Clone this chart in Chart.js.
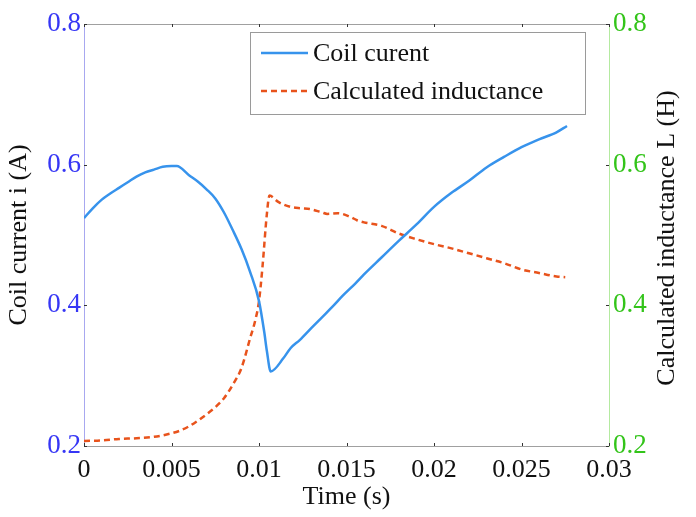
<!DOCTYPE html>
<html>
<head>
<meta charset="utf-8">
<script src="https://cdn.jsdelivr.net/npm/chart.js@4.4.1/dist/chart.umd.min.js"></script>
<style>
  html, body { margin: 0; padding: 0; background: #fff; }
  #wrap { width: 696px; height: 517px; position: relative; }
</style>
</head>
<body>
<div id="wrap"><canvas id="c"></canvas></div>
<script>
// coil current (left axis)
const timeI = [0, 0.0005, 0.001, 0.0015, 0.002, 0.0025, 0.003, 0.0035, 0.004, 0.0045, 0.005, 0.0053, 0.006, 0.0065, 0.007, 0.0075, 0.008, 0.0085, 0.009, 0.0095, 0.01, 0.0103, 0.01045, 0.01067, 0.0114, 0.0118, 0.01234, 0.013, 0.0136, 0.0142, 0.0148, 0.0155, 0.016, 0.017, 0.018, 0.019, 0.02, 0.021, 0.022, 0.023, 0.024, 0.025, 0.026, 0.027, 0.0276];
const current = [0.524, 0.538, 0.550, 0.559, 0.567, 0.575, 0.583, 0.589, 0.593, 0.597, 0.598, 0.598, 0.585, 0.576, 0.565, 0.552, 0.532, 0.507, 0.480, 0.447, 0.406, 0.362, 0.335, 0.306, 0.325, 0.339, 0.351, 0.368, 0.383, 0.398, 0.414, 0.431, 0.444, 0.468, 0.492, 0.515, 0.540, 0.560, 0.577, 0.596, 0.611, 0.625, 0.636, 0.646, 0.655];

// calculated inductance (right axis)
const timeL = [0, 0.001, 0.002, 0.003, 0.004, 0.005, 0.0055, 0.006, 0.0065, 0.007, 0.0075, 0.008, 0.0085, 0.009, 0.0095, 0.0098, 0.01, 0.0102, 0.01045, 0.0106, 0.0111, 0.0118, 0.0124, 0.0129, 0.0136, 0.0139, 0.0145, 0.0152, 0.0156, 0.016, 0.017, 0.018, 0.019, 0.02, 0.021, 0.022, 0.023, 0.024, 0.025, 0.026, 0.027, 0.0275];
const inductance = [0.207, 0.208, 0.210, 0.211, 0.213, 0.218, 0.222, 0.228, 0.236, 0.245, 0.255, 0.268, 0.287, 0.311, 0.354, 0.380, 0.406, 0.455, 0.530, 0.556, 0.547, 0.540, 0.538, 0.537, 0.532, 0.530, 0.531, 0.526, 0.521, 0.518, 0.513, 0.502, 0.494, 0.487, 0.481, 0.474, 0.467, 0.460, 0.451, 0.446, 0.441, 0.440];

const xTicks = ['0', '0.005', '0.01', '0.015', '0.02', '0.025', '0.03'];
const yTicks = ['0.2', '0.4', '0.6', '0.8'];

const FONT = "'Liberation Serif', 'Times New Roman', serif";
const BLUE = '#3793ec';
const ORANGE = '#e8531c';
const rightTitle = 'Calculated inductance L (H)';

// legend box drawn inside the plot, inward tick marks, top frame line, right title (reads upward)
const framePlugin = {
  id: 'frame',
  afterDraw(chart) {
    const { ctx, chartArea: a, scales } = chart;
    ctx.save();
    ctx.strokeStyle = '#a0a0a0';
    ctx.lineWidth = 1;
    ctx.beginPath();
    ctx.moveTo(a.left, a.top + 0.5);
    ctx.lineTo(a.right, a.top + 0.5);
    ctx.stroke();

    ctx.strokeStyle = '#333';
    ctx.beginPath();
    scales.x.ticks.forEach(t => {
      const px = Math.round(scales.x.getPixelForValue(t.value)) + 0.5;
      ctx.moveTo(px, a.bottom); ctx.lineTo(px, a.bottom - 3);
      ctx.moveTo(px, a.top); ctx.lineTo(px, a.top + 3);
    });
    scales.y.ticks.forEach(t => {
      const py = Math.round(scales.y.getPixelForValue(t.value)) + 0.5;
      ctx.moveTo(a.left, py); ctx.lineTo(a.left + 3, py);
      ctx.moveTo(a.right, py); ctx.lineTo(a.right - 3, py);
    });
    ctx.stroke();

    // right axis title
    ctx.save();
    ctx.translate(667, (a.top + a.bottom) / 2 + 3);
    ctx.rotate(-Math.PI / 2);
    ctx.font = '26px ' + FONT;
    ctx.fillStyle = '#111';
    ctx.textAlign = 'center';
    ctx.textBaseline = 'middle';
    ctx.fillText(rightTitle, 0, 0);
    ctx.restore();

    // legend
    const bx = 250, by = 32, bw = 335, bh = 82;
    ctx.fillStyle = '#fff';
    ctx.fillRect(bx, by, bw, bh);
    ctx.strokeStyle = '#9a9a9a';
    ctx.lineWidth = 1;
    ctx.strokeRect(bx + 0.5, by + 0.5, bw, bh);
    ctx.font = '26px ' + FONT;
    ctx.fillStyle = '#111';
    ctx.textBaseline = 'middle';
    chart.data.datasets.forEach((ds, i) => {
      const y = by + 21 + i * 38;
      ctx.strokeStyle = ds.borderColor;
      ctx.lineWidth = 2.5;
      ctx.setLineDash(ds.borderDash || []);
      ctx.beginPath();
      ctx.moveTo(bx + 11, y);
      ctx.lineTo(bx + 58, y);
      ctx.stroke();
      ctx.setLineDash([]);
      ctx.fillText(ds.label, bx + 63, y + 1);
    });
    ctx.restore();
  }
};

new Chart(document.getElementById('c'), {
  type: 'line',
  data: {
    datasets: [
      { label: 'Coil curent', data: timeI.map((t, i) => ({ x: t, y: current[i] })), yAxisID: 'y',
        borderColor: BLUE, borderWidth: 2.5, pointRadius: 0, cubicInterpolationMode: 'monotone', fill: false },
      { label: 'Calculated inductance', data: timeL.map((t, i) => ({ x: t, y: inductance[i] })), yAxisID: 'y2',
        borderColor: ORANGE, borderWidth: 2.5, borderDash: [6, 4], pointRadius: 0, cubicInterpolationMode: 'monotone', fill: false }
    ]
  },
  options: {
    responsive: true, maintainAspectRatio: false, animation: false,
    layout: { padding: { top: 24 } },
    plugins: { legend: { display: false }, tooltip: { enabled: false } },
    scales: {
      x: {
        type: 'linear', min: 0, max: 0.03,
        afterFit: s => { s.height = 71; },
        border: { color: '#a0a0a0' },
        grid: { drawOnChartArea: false, drawTicks: false },
        ticks: { stepSize: 0.005, padding: 9, color: '#111', font: { family: FONT, size: 26 }, maxRotation: 0,
                 callback: (v, i) => xTicks[i] },
        title: { display: true, text: 'Time (s)', color: '#111', font: { family: FONT, size: 26 }, padding: { top: -5 } }
      },
      y: {
        position: 'left', min: 0.2, max: 0.8,
        afterFit: s => { s.width = 84; },
        border: { color: '#a8a8f0' },
        grid: { drawOnChartArea: false, drawTicks: false },
        ticks: { stepSize: 0.2, padding: 3, color: '#3636f5', font: { family: FONT, size: 27 },
                 callback: (v, i) => yTicks[i] },
        title: { display: true, text: 'Coil current i (A)', color: '#111', font: { family: FONT, size: 26 }, padding: { top: 4, bottom: 2 } }
      },
      y2: {
        position: 'right', min: 0.2, max: 0.8,
        afterFit: s => { s.width = 87; },
        border: { color: '#b4eaa0' },
        grid: { drawOnChartArea: false, drawTicks: false },
        ticks: { stepSize: 0.2, padding: 4, color: '#33c41a', font: { family: FONT, size: 27 },
                 callback: (v, i) => yTicks[i] }
      }
    }
  },
  plugins: [framePlugin]
});
</script>
</body>
</html>
